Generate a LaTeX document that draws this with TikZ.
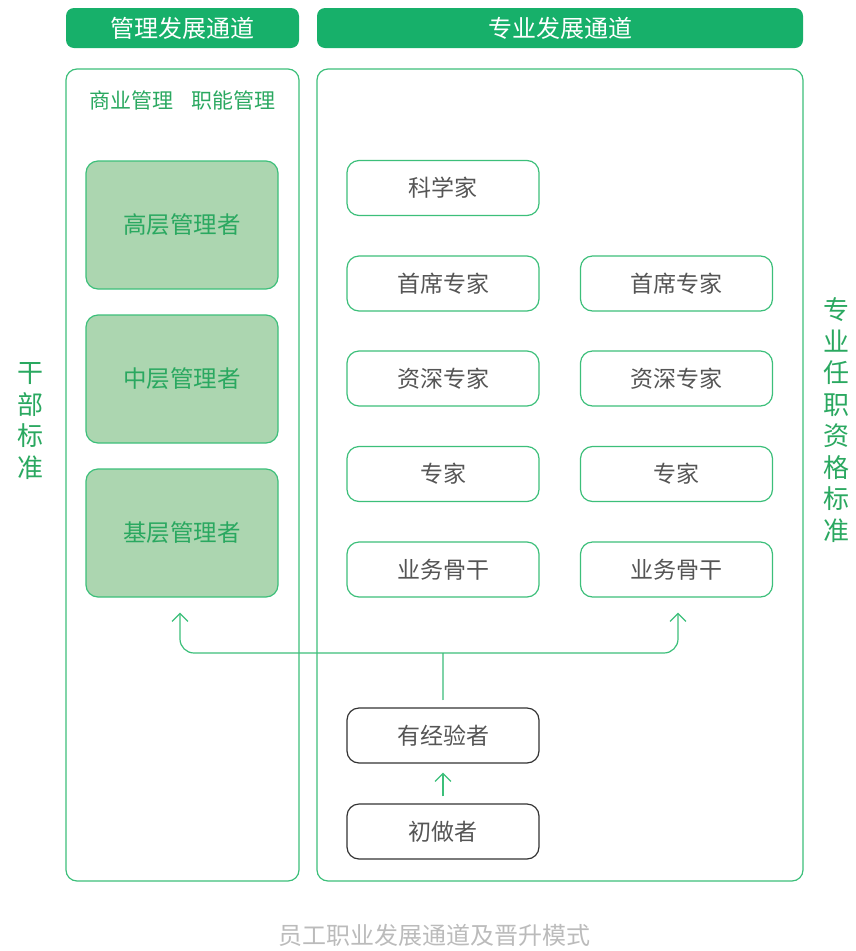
\documentclass[tikz,border=0pt]{standalone}
\usepackage{fontspec}
\newfontfamily\cjk{Noto Sans CJK SC}
\usetikzlibrary{arrows.meta,calc}
\definecolor{hdr}{HTML}{17B06A}
\definecolor{gline}{HTML}{3CBF7A}
\definecolor{gfill}{HTML}{ACD6B0}
\definecolor{gtext}{HTML}{2AA860}
\definecolor{dtext}{HTML}{555555}
\definecolor{stem}{HTML}{7FD3A8}
\definecolor{cap}{HTML}{BBBBBB}
\begin{document}
\begin{tikzpicture}[x=1pt,y=-1pt,
  header/.style={fill=hdr,draw=none,rounded corners=8pt,text=white,font=\cjk\fontsize{24}{28}\selectfont,minimum height=40pt,inner sep=0pt},
  panel/.style={draw=gline,line width=1.2pt,rounded corners=11pt},
  mgr/.style={draw=gline,fill=gfill,line width=1.2pt,rounded corners=12pt,minimum width=192pt,minimum height=128pt,text=gtext,font=\cjk\fontsize{23.5}{28}\selectfont,inner sep=0pt},
  pro/.style={draw=gline,fill=white,line width=1.2pt,rounded corners=12pt,minimum width=192pt,minimum height=55pt,text=dtext,font=\cjk\fontsize{23}{27}\selectfont,inner sep=0pt},
  base/.style={pro,draw=black!80},
  conn/.style={draw=gline,line width=1.2pt},
  tip/.style={-{Straight Barb[length=8pt,width=16pt,line width=1.2pt]}},
  vtext/.style={text=gtext,font=\cjk\fontsize{26}{31.5}\selectfont,align=center,inner sep=0pt}
]
\useasboundingbox (0,0) rectangle (856,951);
% headers
\node[header,minimum width=233pt] (h1) at (182.5,28) {管理发展通道};
\node[header,minimum width=486pt] (h2) at (560,28) {专业发展通道};
% panels
\draw[panel] (66,69) rectangle (299,881);
\draw[panel] (317,69) rectangle (803,881);
\node[text=gtext,font=\cjk\fontsize{21}{24}\selectfont,inner sep=0pt] (sub) at (182.5,100) {商业管理\hspace{19pt}职能管理};
% management boxes
\node[mgr] (m1) at (182,225) {高层管理者};
\node[mgr] (m2) at (182,379) {中层管理者};
\node[mgr] (m3) at (182,533) {基层管理者};
% professional boxes
\node[pro] (p0) at (443,188) {科学家};
\node[pro] (a1) at (443,283.5) {首席专家};
\node[pro] (b1) at (676.5,283.5) {首席专家};
\node[pro] (a2) at (443,378.5) {资深专家};
\node[pro] (b2) at (676.5,378.5) {资深专家};
\node[pro] (a3) at (443,474) {专家};
\node[pro] (b3) at (676.5,474) {专家};
\node[pro] (a4) at (443,569.5) {业务骨干};
\node[pro] (b4) at (676.5,569.5) {业务骨干};
\node[base] (exp) at (443,735.5) {有经验者};
\node[base] (new) at (443,831.5) {初做者};
% connectors
\draw[conn,tip] ($(new.north)+(0,-7)$) -- ($(exp.south)+(0,9)$);
\coordinate (j) at (443,653);
\draw[draw=stem,line width=1.2pt] ($(exp.north)+(0,-7)$) -- (j);
\draw[conn,tip,rounded corners=14pt] (j) -| ($(m3.south)+(-2,15)$);
\draw[conn,tip,rounded corners=14pt] (j) -| ($(b4.south)+(1.5,15)$);
% side labels
\node[vtext] (l) at (30,421) {干\\部\\标\\准};
\node[vtext] (r) at (836,420) {专\\业\\任\\职\\资\\格\\标\\准};
% caption
\node[text=cap,font=\cjk\fontsize{24}{28}\selectfont,inner sep=0pt] (c) at (434,935) {员工职业发展通道及晋升模式};
\end{tikzpicture}
\end{document}
